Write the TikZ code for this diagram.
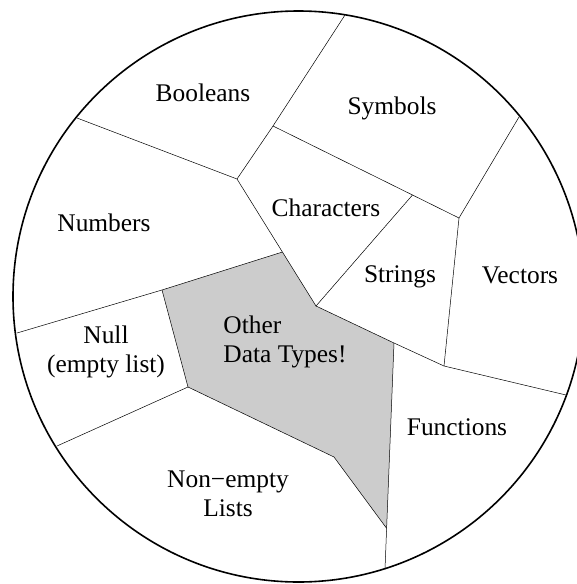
\documentclass[tikz,border=0pt]{standalone}
\usepackage{fontspec}
\setmainfont{Liberation Serif}
\usetikzlibrary{calc}

\tikzset{
  region/.style={font=\fontsize{12.7}{14.5}\selectfont, inner sep=0pt},
  border/.style={line width=0.25pt},
  rim/.style={line width=0.8pt}
}

\begin{document}
\begin{tikzpicture}[x=0.5pt,y=-0.5pt]
  \useasboundingbox (0,0) rectangle (577,584);
  %% corners of the regions
  \coordinate (BN) at (77,118);
  \coordinate (J1) at (237,179);
  \coordinate (J2) at (273,126);
  \coordinate (SY) at (345,15);
  \coordinate (J3) at (459,218);
  \coordinate (VS) at (519,117);
  \coordinate (J4) at (444,366);
  \coordinate (VF) at (566,395);
  \coordinate (J5) at (394,343);
  \coordinate (J6) at (316,306);
  \coordinate (J7) at ($(J2)!0.75!(J3)$);
  \coordinate (G1) at ($(J1)!0.575!(J6)$);
  \coordinate (G2) at (162,290);
  \coordinate (NN) at (17,333);
  \coordinate (G3) at (188,387);
  \coordinate (NL) at (57,446);
  \coordinate (G4) at (334,457);
  \coordinate (FL) at (385,569);
  \coordinate (G5) at ($(J5)!0.82!(FL)$);
  %% the shaded region
  \fill [black!20] (G1) -- (J6) -- (J5) -- (G5) -- (G4) -- (G3) -- (G2) -- cycle;
  %% borders
  \draw [border] (BN) -- (J1) -- (J2) -- (SY);
  \draw [border] (J2) -- (J7) -- (J3) -- (VS);
  \draw [border] (J3) -- (J4) -- (VF);
  \draw [border] (J4) -- (J5) -- (J6) -- (J7);
  \draw [border] (J1) -- (G1) -- (J6);
  \draw [border] (NN) -- (G2) -- (G1);
  \draw [border] (G2) -- (G3) -- (NL);
  \draw [border] (G3) -- (G4) -- (G5);
  \draw [border] (J5) -- (G5) -- (FL);
  \draw [rim] (298.5,296.5) circle [radius=285.5];
  %% labels
  \node (Booleans) at (203,93) [region] {Booleans};
  \node (Symbols) at (392,108) [region] {Symbols};
  \node (Numbers) at (104,223) [region] {Numbers};
  \node (Characters) at (326,208) [region] {Characters};
  \node (Strings) at (400,277) [region] {Strings};
  \node (Vectors) at (520,275) [region] {Vectors};
  \node (Other) at (285,341.5) [region,align=left] {Other\\Data Types!};
  \node (Null) at (106,351.5) [region,align=center] {Null\\(empty list)};
  \node (Lists) at (228,494) [region,align=center] {Non−empty\\Lists};
  \node (Functions) at (457,427) [region] {Functions};
\end{tikzpicture}
\end{document}
